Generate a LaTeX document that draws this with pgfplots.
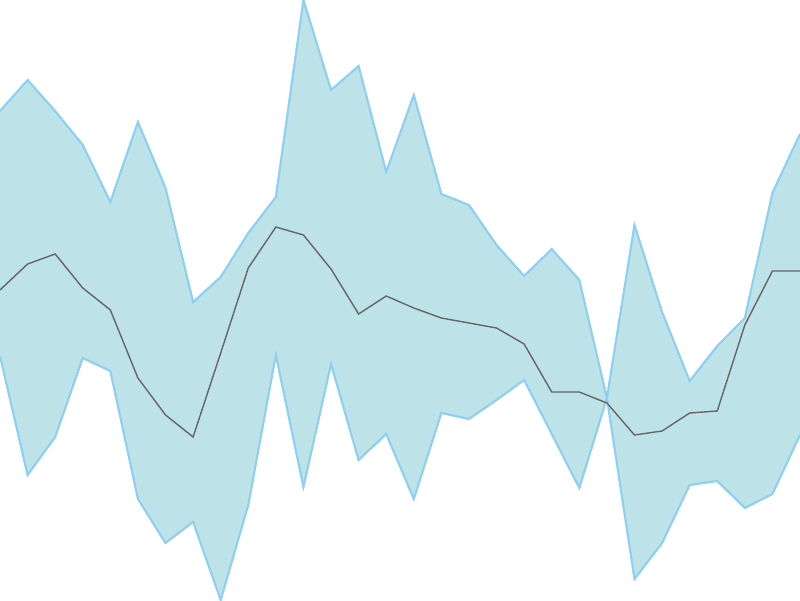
\documentclass[border=0pt]{standalone}
\usepackage{pgfplots}
\usepackage{pgfplotstable}
\pgfplotsset{compat=1.18}
\usepgfplotslibrary{fillbetween}

\definecolor{bandfill}{HTML}{BDE3E9}
\definecolor{bandedge}{HTML}{8ED0F2}
\definecolor{midline}{HTML}{666666}

% y is measured downward from the top edge (0..600)
\pgfplotstableread{
x  up   mid  lo
0  111  290  356
1  80   264  475
2  111  254  437
3  145  288  358
4  202  310  371
5  122  378  499
6  188  415  543
7  302  437  522
8  277  353  600
9  233  268  505
10 197  227  355
11 0    235  487
12 90   269  364
13 66   314  460
14 172  296  434
15 95   308  499
16 194  318  413
17 205  323  419
18 245  328  400
19 276  344  380
20 249  392  434
21 280  392  488
22 398  403  398
23 225  435  579
24 312  431  543
25 381  413  485
26 346  411  481
27 318  325  508
28 193  271  494
29 134  271  435
}\band

\begin{document}
\begin{tikzpicture}
\begin{axis}[
width=20cm, height=15cm,
scale only axis,
xmin=0, xmax=29,
ymin=0, ymax=600,
y dir=reverse,
axis line style={draw=none},
ticks=none,
]
\addplot[name path=up, draw=bandedge, line width=1.3pt] table[x=x, y=up] {\band};
\addplot[name path=lo, draw=bandedge, line width=1.3pt] table[x=x, y=lo] {\band};
\addplot[fill=bandfill, draw=none] fill between[of=up and lo];
\addplot[name path=up2, draw=bandedge, line width=1.3pt] table[x=x, y=up] {\band};
\addplot[draw=bandedge, line width=1.3pt] table[x=x, y=lo] {\band};
\addplot[draw=midline, line width=1pt] table[x=x, y=mid] {\band};
\end{axis}
\end{tikzpicture}
\end{document}
